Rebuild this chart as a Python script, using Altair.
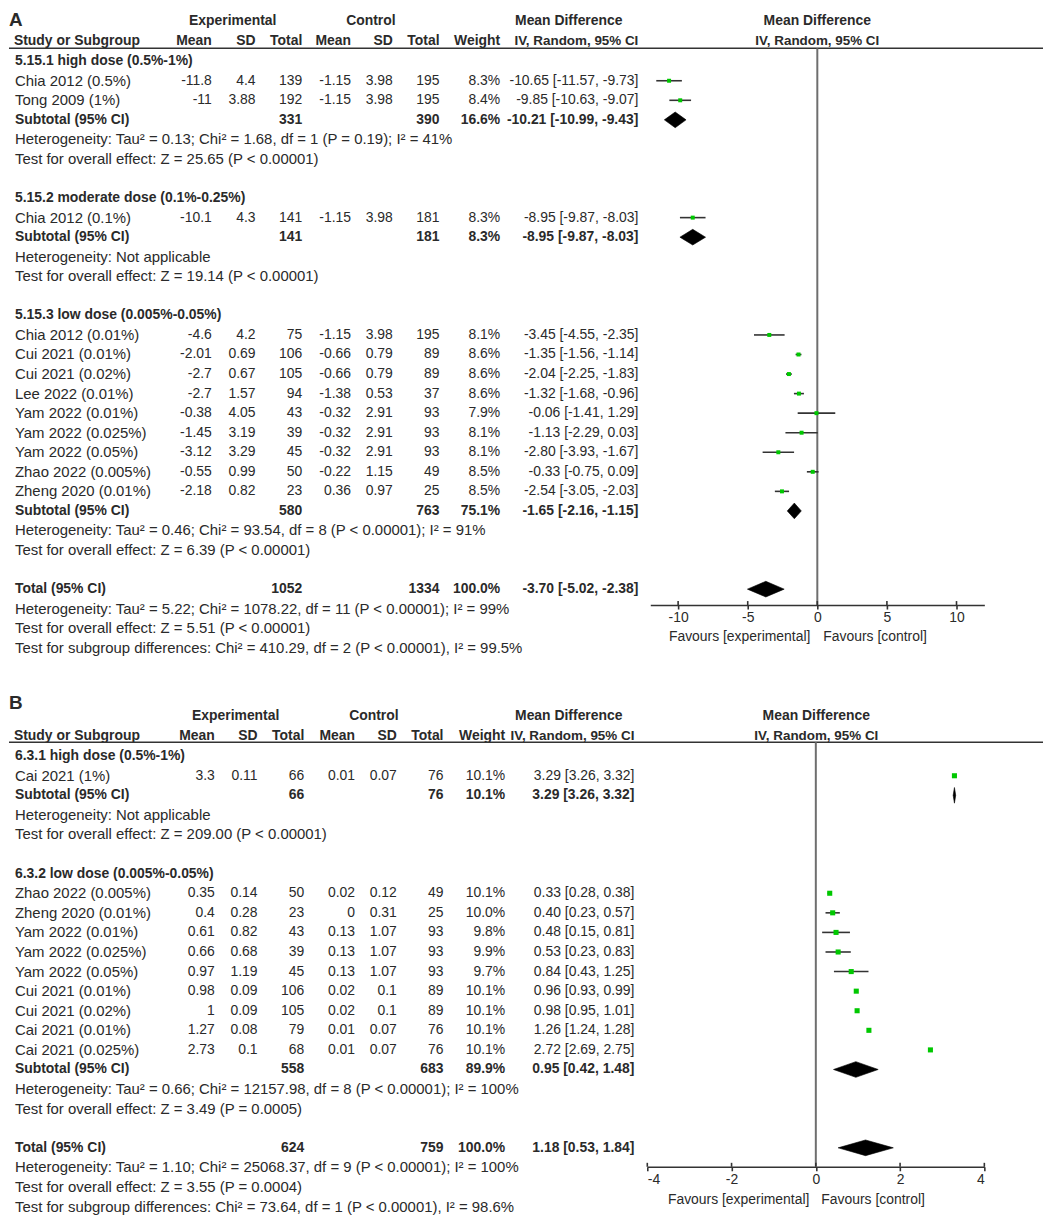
import altair as alt
import pandas as pd

FONT = "Liberation Sans"
TXT = "#2a2a2a"
GREEN = "#00c800"
LINE = "#333333"
REG_NAME = 15  # regular text in the first (study / notes) column
REG_NUM = 14   # regular numbers
BLD = 14       # bold text size

# ---------------- Panel A data ----------------
a_study = ["Chia 2012 (0.5%)", "Tong 2009 (1%)", "Chia 2012 (0.1%)", "Chia 2012 (0.01%)",
           "Cui 2021 (0.01%)", "Cui 2021 (0.02%)", "Lee 2022 (0.01%)", "Yam 2022 (0.01%)",
           "Yam 2022 (0.025%)", "Yam 2022 (0.05%)", "Zhao 2022 (0.005%)", "Zheng 2020 (0.01%)"]
a_group = [0, 0, 1, 2, 2, 2, 2, 2, 2, 2, 2, 2]
a_exp_mean = [-11.8, -11, -10.1, -4.6, -2.01, -2.7, -2.7, -0.38, -1.45, -3.12, -0.55, -2.18]
a_exp_sd = [4.4, 3.88, 4.3, 4.2, 0.69, 0.67, 1.57, 4.05, 3.19, 3.29, 0.99, 0.82]
a_exp_n = [139, 192, 141, 75, 106, 105, 94, 43, 39, 45, 50, 23]
a_ctl_mean = [-1.15, -1.15, -1.15, -1.15, -0.66, -0.66, -1.38, -0.32, -0.32, -0.32, -0.22, 0.36]
a_ctl_sd = [3.98, 3.98, 3.98, 3.98, 0.79, 0.79, 0.53, 2.91, 2.91, 2.91, 1.15, 0.97]
a_ctl_n = [195, 195, 181, 195, 89, 89, 37, 93, 93, 93, 49, 25]
a_weight = [8.3, 8.4, 8.3, 8.1, 8.6, 8.6, 8.6, 7.9, 8.1, 8.1, 8.5, 8.5]
a_md = [-10.65, -9.85, -8.95, -3.45, -1.35, -2.04, -1.32, -0.06, -1.13, -2.80, -0.33, -2.54]
a_lo = [-11.57, -10.63, -9.87, -4.55, -1.56, -2.25, -1.68, -1.41, -2.29, -3.93, -0.75, -3.05]
a_hi = [-9.73, -9.07, -8.03, -2.35, -1.14, -1.83, -0.96, 1.29, 0.03, -1.67, 0.09, -2.03]

a_sub_label = ["5.15.1 high dose (0.5%-1%)", "5.15.2 moderate dose (0.1%-0.25%)",
               "5.15.3 low dose (0.005%-0.05%)"]
a_sub_exp_n = [331, 141, 580]
a_sub_ctl_n = [390, 181, 763]
a_sub_weight = [16.6, 8.3, 75.1]
a_sub_md = [-10.21, -8.95, -1.65]
a_sub_lo = [-10.99, -9.87, -2.16]
a_sub_hi = [-9.43, -8.03, -1.15]
a_sub_het = ["Heterogeneity: Tau² = 0.13; Chi² = 1.68, df = 1 (P = 0.19); I² = 41%",
             "Heterogeneity: Not applicable",
             "Heterogeneity: Tau² = 0.46; Chi² = 93.54, df = 8 (P < 0.00001); I² = 91%"]
a_sub_test = ["Test for overall effect: Z = 25.65 (P < 0.00001)",
              "Test for overall effect: Z = 19.14 (P < 0.00001)",
              "Test for overall effect: Z = 6.39 (P < 0.00001)"]
a_total = [1052, 1334, 100.0, -3.70, -5.02, -2.38]
a_total_lines = ["Heterogeneity: Tau² = 5.22; Chi² = 1078.22, df = 11 (P < 0.00001); I² = 99%",
                 "Test for overall effect: Z = 5.51 (P < 0.00001)",
                 "Test for subgroup differences: Chi² = 410.29, df = 2 (P < 0.00001), I² = 99.5%"]
a_ticks = [-10, -5, 0, 5, 10]
a_domain = [-12, 12]

# ---------------- Panel B data ----------------
b_study = ["Cai 2021 (1%)", "Zhao 2022 (0.005%)", "Zheng 2020 (0.01%)", "Yam 2022 (0.01%)",
           "Yam 2022 (0.025%)", "Yam 2022 (0.05%)", "Cui 2021 (0.01%)", "Cui 2021 (0.02%)",
           "Cai 2021 (0.01%)", "Cai 2021 (0.025%)"]
b_group = [0, 1, 1, 1, 1, 1, 1, 1, 1, 1]
b_exp_mean = [3.3, 0.35, 0.4, 0.61, 0.66, 0.97, 0.98, 1, 1.27, 2.73]
b_exp_sd = [0.11, 0.14, 0.28, 0.82, 0.68, 1.19, 0.09, 0.09, 0.08, 0.1]
b_exp_n = [66, 50, 23, 43, 39, 45, 106, 105, 79, 68]
b_ctl_mean = [0.01, 0.02, 0, 0.13, 0.13, 0.13, 0.02, 0.02, 0.01, 0.01]
b_ctl_sd = [0.07, 0.12, 0.31, 1.07, 1.07, 1.07, 0.1, 0.1, 0.07, 0.07]
b_ctl_n = [76, 49, 25, 93, 93, 93, 89, 89, 76, 76]
b_weight = [10.1, 10.1, 10.0, 9.8, 9.9, 9.7, 10.1, 10.1, 10.1, 10.1]
b_md = [3.29, 0.33, 0.40, 0.48, 0.53, 0.84, 0.96, 0.98, 1.26, 2.72]
b_lo = [3.26, 0.28, 0.23, 0.15, 0.23, 0.43, 0.93, 0.95, 1.24, 2.69]
b_hi = [3.32, 0.38, 0.57, 0.81, 0.83, 1.25, 0.99, 1.01, 1.28, 2.75]

b_sub_label = ["6.3.1 high dose (0.5%-1%)", "6.3.2 low dose (0.005%-0.05%)"]
b_sub_exp_n = [66, 558]
b_sub_ctl_n = [76, 683]
b_sub_weight = [10.1, 89.9]
b_sub_md = [3.29, 0.95]
b_sub_lo = [3.26, 0.42]
b_sub_hi = [3.32, 1.48]
b_sub_het = ["Heterogeneity: Not applicable",
             "Heterogeneity: Tau² = 0.66; Chi² = 12157.98, df = 8 (P < 0.00001); I² = 100%"]
b_sub_test = ["Test for overall effect: Z = 209.00 (P < 0.00001)",
              "Test for overall effect: Z = 3.49 (P = 0.0005)"]
b_total = [624, 759, 100.0, 1.18, 0.53, 1.84]
b_total_lines = ["Heterogeneity: Tau² = 1.10; Chi² = 25068.37, df = 9 (P < 0.00001); I² = 100%",
                 "Test for overall effect: Z = 3.55 (P = 0.0004)",
                 "Test for subgroup differences: Chi² = 73.64, df = 1 (P < 0.00001), I² = 98.6%"]
b_ticks = [-4, -2, 0, 2, 4]
b_domain = [-4, 4]

header_top = ["Experimental", "Control", "Mean Difference", "Mean Difference"]
header_cols = ["Study or Subgroup", "Mean", "SD", "Total", "Mean", "SD", "Total", "Weight",
               "IV, Random, 95% CI", "IV, Random, 95% CI"]
favours = ["Favours [experimental]", "Favours [control]"]


def ci_text(m, l, h):
    return f"{m:.2f} [{l:.2f}, {h:.2f}]"


def build_rows(study, group, em, es, en, cm, cs, cn, w, md, lo, hi,
               sl, sen, scn, sw, smd, slo, shi, shet, stest, total, tlines):
    rows, studies, diamonds = [], [], []
    r = 0
    blank = dict(em="", es="", en="", cm="", cs="", cn="", w="", md="")
    for g in range(len(sl)):
        rows.append(dict(row=r, bold=True, name=sl[g], **blank)); r += 1
        for i in range(len(study)):
            if group[i] != g:
                continue
            rows.append(dict(row=r, bold=False, name=study[i], em=str(em[i]), es=str(es[i]),
                             en=str(en[i]), cm=str(cm[i]), cs=str(cs[i]), cn=str(cn[i]),
                             w=f"{w[i]:.1f}%", md=ci_text(md[i], lo[i], hi[i])))
            studies.append(dict(row=r, md=md[i], lo=lo[i], hi=hi[i]))
            r += 1
        rows.append(dict(row=r, bold=True, name="Subtotal (95% CI)", em="", es="", en=str(sen[g]),
                         cm="", cs="", cn=str(scn[g]), w=f"{sw[g]:.1f}%",
                         md=ci_text(smd[g], slo[g], shi[g])))
        diamonds.append((f"s{g}", r, smd[g], slo[g], shi[g]))
        r += 1
        rows.append(dict(row=r, bold=False, name=shet[g], **blank)); r += 1
        rows.append(dict(row=r, bold=False, name=stest[g], **blank)); r += 1
        r += 1
    rows.append(dict(row=r, bold=True, name="Total (95% CI)", em="", es="", en=str(total[0]),
                     cm="", cs="", cn=str(total[1]), w=f"{total[2]:.1f}%",
                     md=ci_text(total[3], total[4], total[5])))
    diamonds.append(("t", r, total[3], total[4], total[5]))
    r += 1
    for t in tlines:
        rows.append(dict(row=r, bold=False, name=t, **blank)); r += 1
    dpts = []
    for did, rr, m, l, h in diamonds:
        dpts.append(dict(id=did, x=l, top=rr, bot=rr))
        dpts.append(dict(id=did, x=m, top=rr - 0.4, bot=rr + 0.4))
        dpts.append(dict(id=did, x=h, top=rr, bot=rr))
    return pd.DataFrame(rows), pd.DataFrame(studies), pd.DataFrame(dpts), r - 1


def txt(text, x, y, align="left", bold=False, size=14, baseline="middle"):
    return alt.Chart(pd.DataFrame({"t": [text]})).mark_text(
        align=align, baseline=baseline, font=FONT, fontSize=size,
        fontWeight="bold" if bold else "normal", color=TXT
    ).encode(x=alt.value(x), y=alt.value(y), text="t:N")


def panel(letter, data, ticks, domain, L, sq_size):
    rows, studies, dpts, last = data
    ys = alt.Scale(domain=[0, last], range=[L["row0"], L["rowN"]], nice=False, zero=False)
    xs = alt.Scale(domain=domain, range=L["xrange"], nice=False, zero=False)
    ax = alt.Axis(values=ticks, title=None, grid=False, offset=L["axis_y"] - L["height"],
                  domainColor=LINE, domainWidth=1.6, tickColor=LINE, tickWidth=1.6, tickSize=4,
                  labelFont=FONT, labelFontSize=14, labelColor=TXT, labelPadding=2,
                  labelExpr="'' + datum.value")
    Y = lambda f: alt.Y(f, scale=ys, axis=None)
    layers = []
    # panel letter and headers
    layers.append(txt(letter, 0, L["letter_y"], bold=True, size=19, baseline="top"))
    for t, xc in zip(header_top, L["top_x"]):
        layers.append(txt(t, xc, L["h1"], align="center", bold=True, size=BLD))
    layers.append(txt(header_cols[0], 5, L["h2"], bold=True, size=BLD))
    for t, xc in zip(header_cols[1:8], L["cols"][1:8]):
        layers.append(txt(t, xc, L["h2"], align="right", bold=True, size=BLD))
    layers.append(txt(header_cols[8], L["cols"][8], L["h2"], align="right", bold=True, size=13.5))
    layers.append(txt(header_cols[9], L["top_x"][3], L["h2"], align="center", bold=True, size=13.5))
    layers.append(alt.Chart(pd.DataFrame({"a": [0]})).mark_rule(color=LINE, strokeWidth=1.6).encode(
        x=alt.value(0), x2=alt.value(1040), y=alt.value(L["hline"])))
    # table body
    fields = ["name", "em", "es", "en", "cm", "cs", "cn", "w", "md"]
    for f, xc in zip(fields, L["cols"]):
        for bold in (False, True):
            size = BLD if bold else (REG_NAME if f == "name" else REG_NUM)
            layers.append(alt.Chart(rows).transform_filter(
                alt.datum.bold == bold
            ).mark_text(align="left" if f == "name" else "right", baseline="middle", font=FONT,
                        fontSize=size, fontWeight="bold" if bold else "normal",
                        color=TXT).encode(
                x=alt.value(xc), y=Y("row:Q"), text=f"{f}:N"))
    # forest plot
    layers.append(alt.Chart(pd.DataFrame({"a": [0]})).mark_rule(color="#6e6e6e", strokeWidth=2).encode(
        x=alt.X(datum=0, scale=xs, axis=ax), y=alt.value(L["hline"]), y2=alt.value(L["axis_y"])))
    layers.append(alt.Chart(pd.DataFrame({"t": ticks})).mark_rule(color=LINE, strokeWidth=1.6).encode(
        x=alt.X("t:Q", scale=xs, axis=ax), y=alt.value(L["axis_y"] - 4), y2=alt.value(L["axis_y"])))
    layers.append(alt.Chart(studies).mark_rule(color=LINE, strokeWidth=1.6).encode(
        x=alt.X("lo:Q", scale=xs, axis=ax), x2="hi:Q", y=Y("row:Q")))
    layers.append(alt.Chart(studies).mark_square(color=GREEN, size=sq_size, opacity=1).encode(
        x=alt.X("md:Q", scale=xs, axis=ax), y=Y("row:Q")))
    layers.append(alt.Chart(dpts).mark_area(color="black", orient="vertical", stroke="black",
                                            strokeWidth=0.6).encode(
        x=alt.X("x:Q", scale=xs, axis=ax), y=Y("top:Q"), y2="bot:Q", detail="id:N"))
    layers.append(txt(favours[0], L["fav"][0], L["fav_y"], align="right"))
    layers.append(txt(favours[1], L["fav"][1], L["fav_y"], align="left"))
    return alt.layer(*layers).properties(width=1040, height=L["height"])


LA = dict(height=649, row0=50, rowN=640, xrange=[645, 981], axis_y=597, letter_y=0,
          h1=10, h2=30, hline=37, top_x=[225, 364, 563, 813],
          cols=[6, 204, 248, 295, 344, 386, 433, 494, 633], fav=[806, 819], fav_y=629)
LB = dict(height=551, row0=90, rowN=543, xrange=[642, 981], axis_y=503, letter_y=28,
          h1=50, h2=70, hline=76, top_x=[228, 367, 563, 812],
          cols=[6, 207, 250, 297, 348, 390, 437, 499, 629], fav=[805, 817], fav_y=536)

dataA = build_rows(a_study, a_group, a_exp_mean, a_exp_sd, a_exp_n, a_ctl_mean, a_ctl_sd, a_ctl_n,
                   a_weight, a_md, a_lo, a_hi, a_sub_label, a_sub_exp_n, a_sub_ctl_n, a_sub_weight,
                   a_sub_md, a_sub_lo, a_sub_hi, a_sub_het, a_sub_test, a_total, a_total_lines)
dataB = build_rows(b_study, b_group, b_exp_mean, b_exp_sd, b_exp_n, b_ctl_mean, b_ctl_sd, b_ctl_n,
                   b_weight, b_md, b_lo, b_hi, b_sub_label, b_sub_exp_n, b_sub_ctl_n, b_sub_weight,
                   b_sub_md, b_sub_lo, b_sub_hi, b_sub_het, b_sub_test, b_total, b_total_lines)

chartA = panel("A", dataA, a_ticks, a_domain, LA, 16)
chartB = panel("B", dataB, b_ticks, b_domain, LB, 26)

chart = alt.vconcat(chartA, chartB, spacing=10).resolve_scale(
    x="independent", y="independent"
).properties(padding=0, background="white").configure_view(stroke=None)

chart.save("out.html", embed_options={"renderer": "svg", "actions": False})
